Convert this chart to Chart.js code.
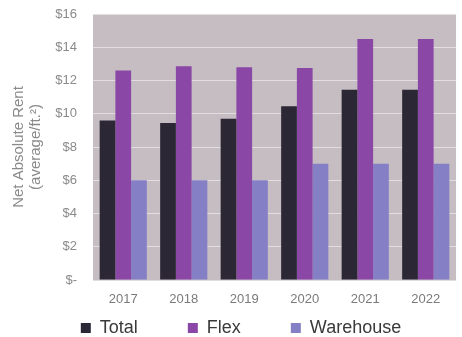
<!DOCTYPE html>
<html>
<head>
<meta charset="utf-8">
<script src="https://cdn.jsdelivr.net/npm/chart.js@4"></script>
<style>
    body { margin: 0; background: #fff; }
    #wrap { width: 462px; height: 337px; position: relative; }
</style>
</head>
<body>
<div id="wrap"><canvas id="rentChart"></canvas></div>
<script>
const years = ['2017', '2018', '2019', '2020', '2021', '2022'];
const total = [9.6, 9.45, 9.7, 10.45, 11.45, 11.45];
const flex = [12.6, 12.85, 12.8, 12.75, 14.5, 14.5];
const warehouse = [6.0, 6.0, 6.0, 7.0, 7.0, 7.0];

const legendGap = 50;

// grey panel behind the bars
const plotBackground = {
    id: 'plotBackground',
    beforeDraw(chart) {
        const { ctx, chartArea } = chart;
        ctx.save();
        ctx.fillStyle = '#c5bdc2';
        ctx.fillRect(chartArea.left, chartArea.top, chartArea.right - chartArea.left, chartArea.bottom - chartArea.top);
        ctx.restore();
    }
};

// wide gaps between legend items, but keep the legend short and a bit right of centre
const legendNudge = {
    id: 'legendNudge',
    afterLayout(chart) {
        const lg = chart.legend;
        lg.top -= legendGap - 12;
        lg.left += 13;
        lg.right += 13;
    }
};

const ctx = document.getElementById('rentChart').getContext('2d');
const rentChart = new Chart(ctx, {
    type: 'bar',
    data: {
        labels: years,
        datasets: [
            { label: 'Total', data: total, backgroundColor: '#2b2735' },
            { label: 'Flex', data: flex, backgroundColor: '#8a47a6' },
            { label: 'Warehouse', data: warehouse, backgroundColor: '#8580c6' }
        ]
    },
    options: {
        responsive: true,
        maintainAspectRatio: false,
        animation: false,
        layout: { padding: { top: 14, right: 6, left: 0, bottom: 0 } },
        datasets: {
            bar: { barPercentage: 1, categoryPercentage: 0.78 }
        },
        scales: {
            x: {
                afterFit(scale) { scale.height = 27; },
                grid: { display: false, drawTicks: false },
                border: { display: false },
                ticks: {
                    color: '#7a7a7a',
                    padding: 12,
                    font: { size: 13, family: 'Liberation Sans' }
                }
            },
            y: {
                min: 0,
                max: 16,
                afterFit(scale) {
                    scale.width = 93;
                    scale.paddingTop = 0;
                    scale.paddingBottom = 0;
                },
                grid: { color: '#e2dde0', lineWidth: 1, drawTicks: false },
                border: { display: false },
                ticks: {
                    stepSize: 2,
                    color: '#8a8a8a',
                    padding: 16,
                    font: { size: 13, family: 'Liberation Sans' },
                    callback: v => v === 0 ? '$-' : '$' + v
                },
                title: {
                    display: true,
                    text: ['Net Absolute Rent', '(average/ft.²)'],
                    color: '#8a8a8a',
                    padding: { top: 11, bottom: 0 },
                    font: { size: 15, family: 'Liberation Sans', lineHeight: 1.1 }
                }
            }
        },
        plugins: {
            legend: {
                position: 'bottom',
                maxHeight: 30,
                labels: {
                    boxWidth: 10,
                    boxHeight: 10,
                    padding: legendGap,
                    color: '#3a3a3a',
                    font: { size: 18, family: 'Liberation Sans' }
                }
            },
            tooltip: { enabled: false }
        }
    },
    plugins: [plotBackground, legendNudge]
});
</script>
</body>
</html>
